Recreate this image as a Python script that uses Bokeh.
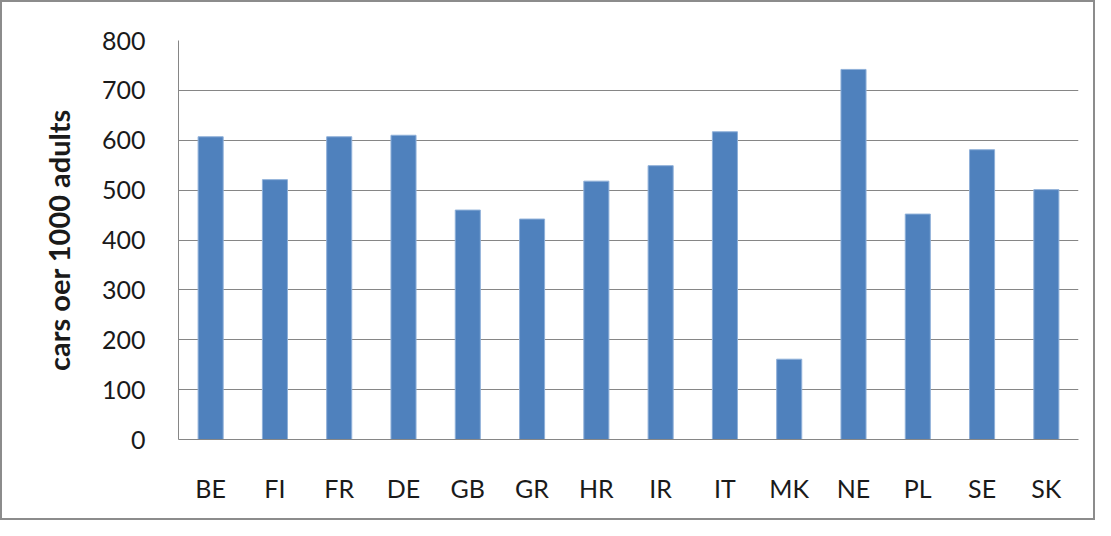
from bokeh.plotting import figure
from bokeh.models import Range1d, FactorRange
from bokeh.embed import file_html
from bokeh.resources import INLINE

countries = ["BE", "FI", "FR", "DE", "GB", "GR", "HR", "IR", "IT", "MK", "NE", "PL", "SE", "SK"]
cars = [607, 521, 607, 610, 460, 442, 518, 549, 617, 161, 742, 452, 581, 501]
y_ticks = [0, 100, 200, 300, 400, 500, 600, 700, 800]
y_title = "cars oer 1000 adults"

p = figure(
    x_range=FactorRange(factors=countries, range_padding=0),
    y_range=Range1d(0, 800),
    width=1095, height=520,
    output_backend="svg", toolbar_location=None,
    min_border_left=176, min_border_right=19, min_border_top=38, min_border_bottom=83,
    styles={"border": "2px solid #8c8c8c", "box-sizing": "border-box"},
)

p.vbar(x=countries, top=cars, width=0.39, fill_color="#4F81BD", line_color="#8FB0D9", line_width=1)

p.outline_line_color = None
p.background_fill_color = "white"
p.border_fill_color = "white"

p.xgrid.grid_line_color = None
p.ygrid.grid_line_color = "#868686"
p.ygrid.grid_line_width = 1
p.yaxis.ticker = y_ticks

for ax in (p.xaxis, p.yaxis):
    ax.axis_line_color = "#868686"
    ax.axis_line_width = 1
    ax.major_tick_line_color = None
    ax.minor_tick_line_color = None
    ax.major_label_text_font = "Lato"
    ax.major_label_text_font_size = "25px"
    ax.major_label_text_color = "#1a1a1a"

p.yaxis.major_label_standoff = 27
p.xaxis.major_label_standoff = 27
p.yaxis.axis_label = y_title
p.yaxis.axis_label_text_font = "Lato"
p.yaxis.axis_label_text_font_style = "bold"
p.yaxis.axis_label_text_font_size = "29px"
p.yaxis.axis_label_text_color = "#1a1a1a"
p.yaxis.axis_label_standoff = 23

open("out.html", "w").write(file_html(p, INLINE))
